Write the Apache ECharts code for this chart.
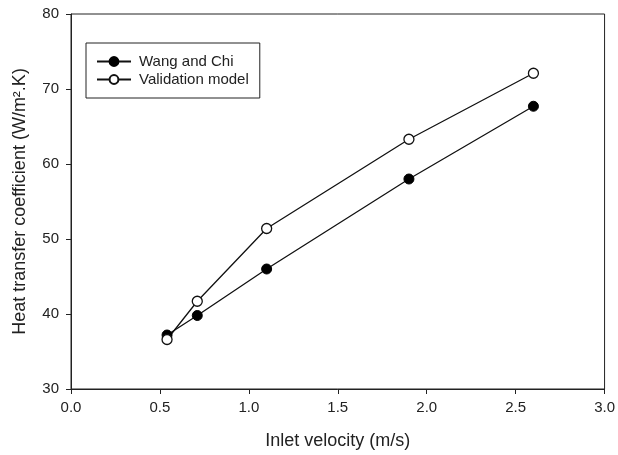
<!DOCTYPE html>
<html>
<head>
<meta charset="utf-8">
<script src="https://cdn.jsdelivr.net/npm/echarts@6/dist/echarts.min.js"></script>
<style>
  html, body { margin: 0; padding: 0; background: #fff; }
  #chart { width: 618px; height: 455px; }
</style>
</head>
<body>
<div id="chart"></div>
<script>
// data
const velocity = [0.54, 0.71, 1.10, 1.90, 2.60]
const wangChi = [37.2, 39.8, 46.0, 58.0, 67.7]
const validation = [36.6, 41.7, 51.4, 63.3, 72.1]
const seriesNames = ['Wang and Chi', 'Validation model']

const font = 'Arial, "Liberation Sans", sans-serif'
const ink = '#222'

const chart = echarts.init(document.getElementById('chart'))

const toPairs = (xs, ys) => xs.map((x, i) => [x, ys[i]])

const axisCommon = {
  axisLine: { show: true, onZero: false, lineStyle: { color: ink, width: 1 } },
  axisTick: { show: true, inside: false, length: 5, lineStyle: { color: ink } },
  splitLine: { show: false },
  axisLabel: { color: ink, fontSize: 15, fontFamily: font, margin: 12 },
  nameLocation: 'middle',
  nameTextStyle: { color: ink, fontSize: 18, fontFamily: font }
}

chart.setOption({
  animation: false,
  backgroundColor: '#fff',
  grid: {
    left: 71,
    right: 11,
    top: 14,
    bottom: 65.5,
    show: true,
    borderColor: ink,
    borderWidth: 1
  },
  legend: {
    orient: 'vertical',
    left: 86,
    top: 43,
    padding: [11, 11, 11, 10],
    borderColor: ink,
    borderWidth: 1,
    itemWidth: 34,
    itemHeight: 11,
    itemGap: 3,
    data: seriesNames,
    textStyle: { color: ink, fontSize: 15, fontFamily: font, padding: [0, 0, 0, 3] }
  },
  xAxis: {
    ...axisCommon,
    type: 'value',
    min: 0,
    max: 3,
    interval: 0.5,
    name: 'Inlet velocity (m/s)',
    nameGap: 43,
    axisLabel: { ...axisCommon.axisLabel, margin: 11, formatter: v => v.toFixed(1) }
  },
  yAxis: {
    ...axisCommon,
    type: 'value',
    min: 30,
    max: 80,
    interval: 10,
    name: 'Heat transfer coefficient (W/m\u00B2.K)',
    nameGap: 42
  },
  series: [
    {
      name: seriesNames[0],
      type: 'line',
      data: toPairs(velocity, wangChi),
      symbol: 'circle',
      symbolSize: 10,
      itemStyle: { color: '#000', borderColor: '#000', borderWidth: 1 },
      lineStyle: { color: '#111', width: 1.3 }
    },
    {
      name: seriesNames[1],
      type: 'line',
      data: toPairs(velocity, validation),
      symbol: 'circle',
      symbolSize: 10,
      itemStyle: { color: '#fff', borderColor: '#111', borderWidth: 1.3 },
      lineStyle: { color: '#111', width: 1.3 }
    }
  ]
})
</script>
</body>
</html>
